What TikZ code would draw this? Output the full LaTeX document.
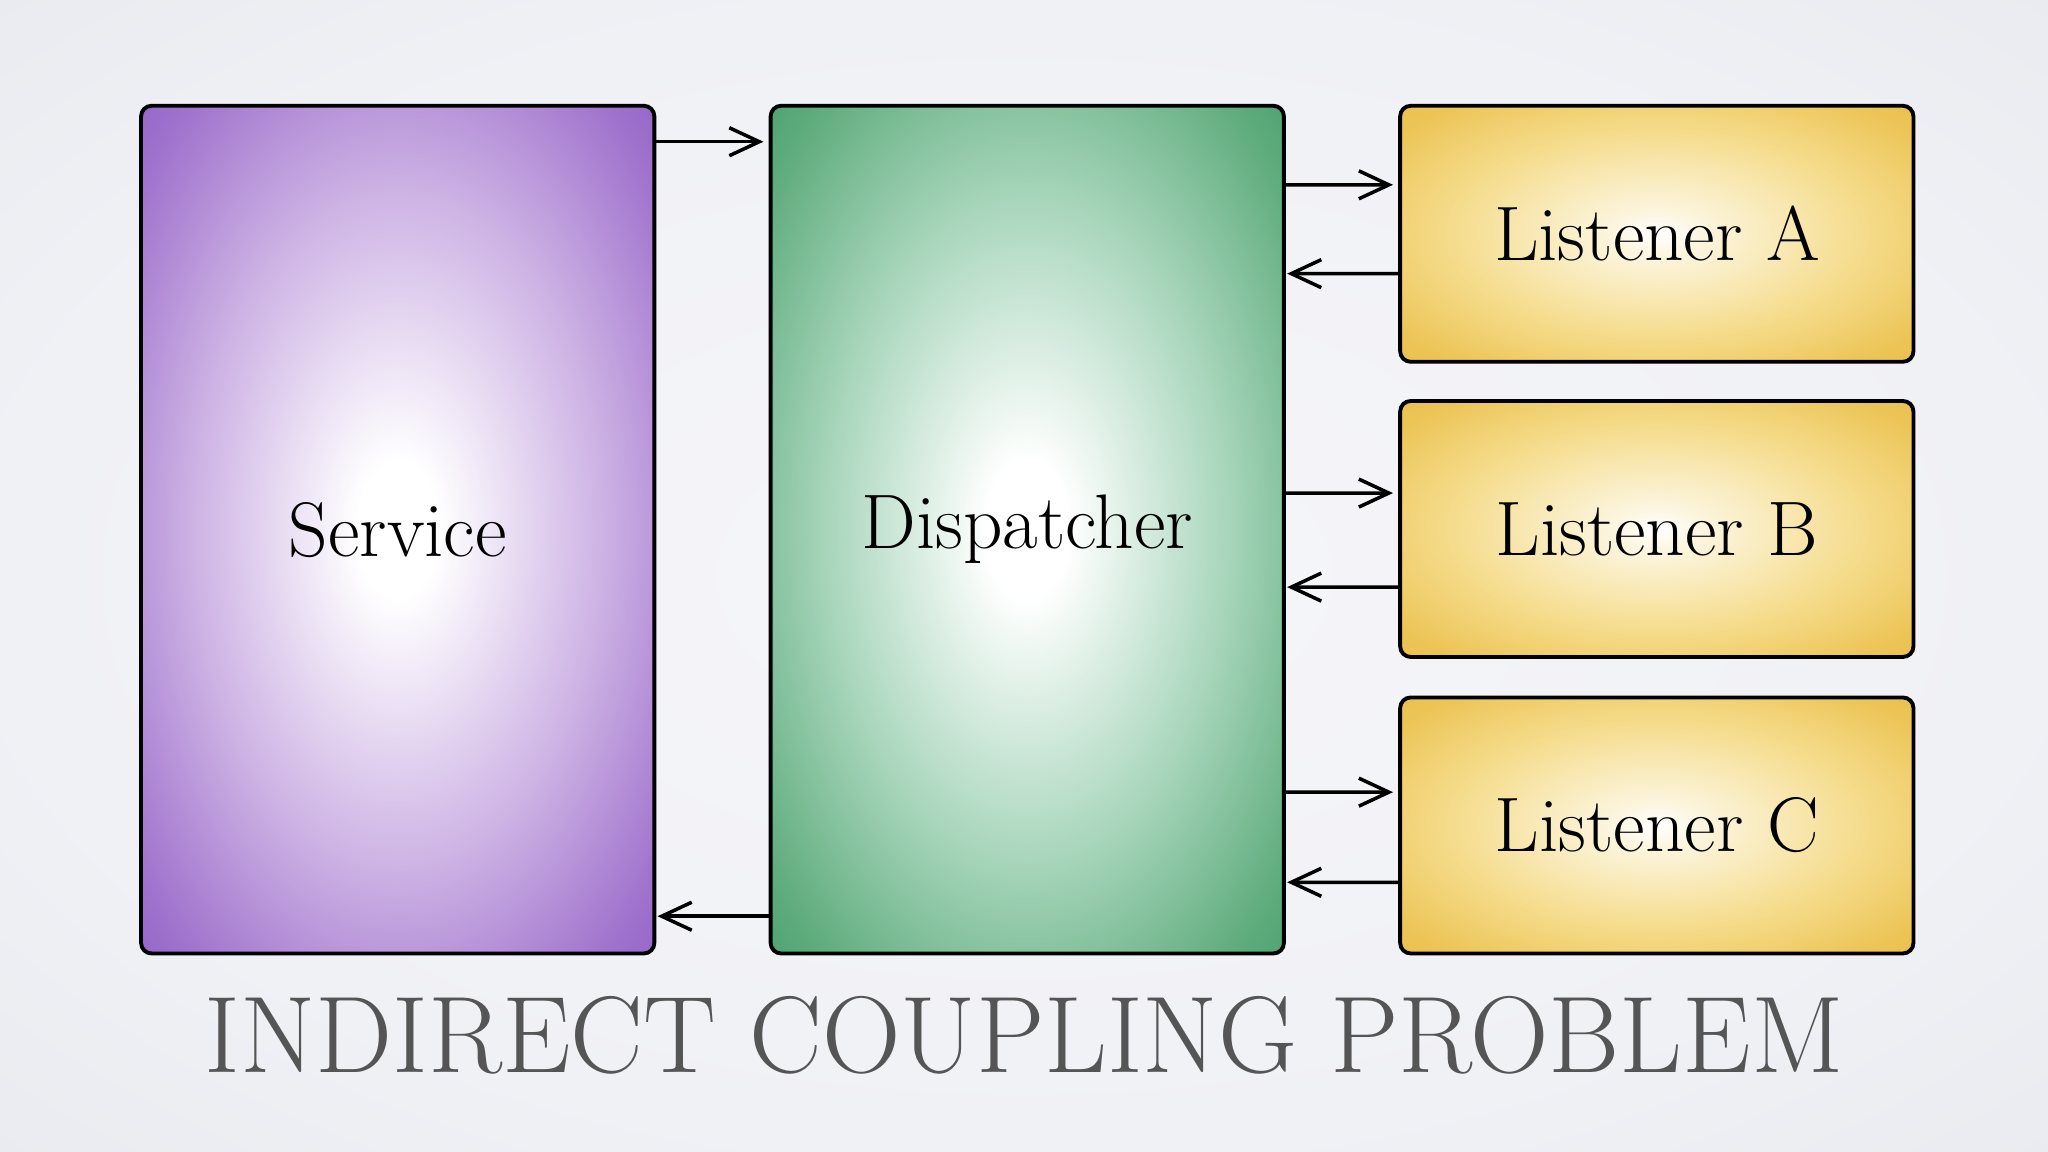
\documentclass[tikz,border=0pt]{standalone}
\usetikzlibrary{arrows.meta,calc}
\definecolor{ttl}{HTML}{555555}
\pgfdeclareradialshading{purpsh}{\pgfpoint{0bp}{0bp}}{color(0bp)=(white);color(4bp)=(white);color(20bp)=(rgb,255:red,205;green,178;blue,228);color(32bp)=(rgb,255:red,160;green,115;blue,205);color(45bp)=(rgb,255:red,122;green,70;blue,190)}
\pgfdeclareradialshading{grnsh}{\pgfpoint{0bp}{0bp}}{color(0bp)=(white);color(4bp)=(white);color(20bp)=(rgb,255:red,165;green,212;blue,185);color(32bp)=(rgb,255:red,95;green,172;blue,125);color(45bp)=(rgb,255:red,40;green,140;blue,85)}
\pgfdeclareradialshading{goldsh}{\pgfpoint{0bp}{0bp}}{color(0bp)=(white);color(4bp)=(rgb,255:red,252;green,246;blue,225);color(20bp)=(rgb,255:red,245;green,220;blue,140);color(32bp)=(rgb,255:red,236;green,196;blue,85);color(45bp)=(rgb,255:red,230;green,185;blue,65)}
\pgfdeclareradialshading{bgsh}{\pgfpoint{0bp}{0bp}}{color(0bp)=(rgb,255:red,246;green,246;blue,250);color(25bp)=(rgb,255:red,240;green,241;blue,245);color(50bp)=(rgb,255:red,224;green,227;blue,233);color(70bp)=(rgb,255:red,218;green,221;blue,228)}
\begin{document}
\begin{tikzpicture}[x=0.013061cm,y=-0.013061cm,
  box/.style={draw=black,line width=1.1pt,rounded corners=3pt,inner sep=0pt,font=\fontsize{22}{26}\selectfont},
  arr/.style={line width=1pt,-{Straight Barb[length=3mm,width=2.8mm,line width=1pt]}}]
\shade[shading=bgsh] (0,0) rectangle (1568,882);
\useasboundingbox (0,0) rectangle (1568,882);
\node[box,shading=purpsh,minimum width=5.133cm,minimum height=8.477cm] (svc) at (304.5,405.5) {Service};
\node[box,shading=grnsh,minimum width=5.133cm,minimum height=8.477cm] (dsp) at (786.5,405.5) {Dispatcher};
\node[box,shading=goldsh,minimum width=5.133cm,minimum height=2.56cm] (la) at (1268.5,179) {Listener A};
\node[box,shading=goldsh,minimum width=5.133cm,minimum height=2.56cm] (lb) at (1268.5,405) {Listener B};
\node[box,shading=goldsh,minimum width=5.133cm,minimum height=2.56cm] (lc) at (1268.5,632) {Listener C};
\node[font=\fontsize{31}{36}\selectfont,text=ttl] (t) at (784,793) {INDIRECT COUPLING PROBLEM};
\draw[arr] ($(svc.north east)+(0,29)$) -- ($(dsp.north west)+(-4,29)$);
\draw[arr] ($(dsp.south west)+(0,-30)$) -- ($(svc.south east)+(1,-30)$);
\draw[arr] ($(dsp.north east)+(0,62)$) -- ($(la.north west)+(-4,62)$);
\draw[arr] ($(la.north west)+(0,130)$) -- ($(dsp.north east)+(1,130)$);
\draw[arr] ($(dsp.north east)+(0,298)$) -- ($(lb.north west)+(-4,72)$);
\draw[arr] ($(lb.north west)+(0,144)$) -- ($(dsp.north east)+(1,370)$);
\draw[arr] ($(dsp.north east)+(0,527)$) -- ($(lc.north west)+(-4,74)$);
\draw[arr] ($(lc.north west)+(0,143)$) -- ($(dsp.north east)+(1,596)$);
\end{tikzpicture}
\end{document}
